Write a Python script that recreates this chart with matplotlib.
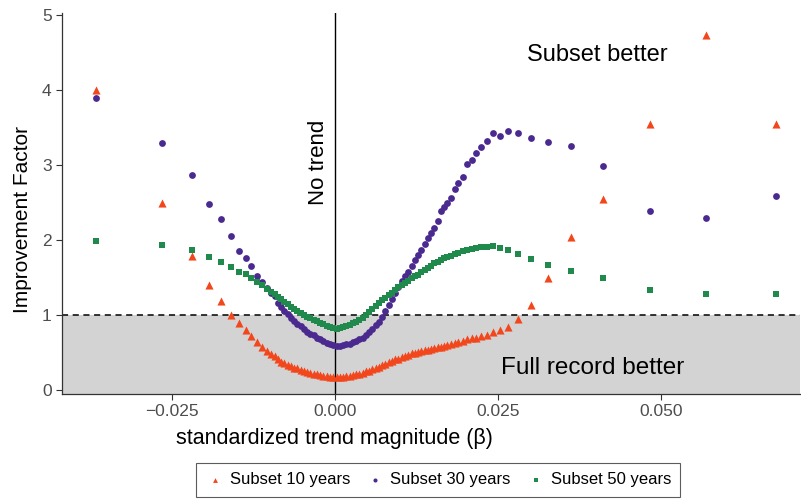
import matplotlib
matplotlib.use('Agg')
import matplotlib.pyplot as plt

plt.rcParams['font.family'] = ['Liberation Sans', 'DejaVu Sans']

# standardized trend magnitude (beta), shared by all three subsets
beta = [-0.0367, -0.0265, -0.0219, -0.0193, -0.0175, -0.0160, -0.0147, -0.0137, -0.0129, -0.0120, -0.0112, -0.0105,
        -0.0098, -0.0093, -0.0088, -0.0083, -0.0078, -0.0073, -0.0068, -0.0063, -0.0058, -0.0053, -0.0048, -0.0043,
        -0.0038, -0.0033, -0.0028, -0.0023, -0.0018, -0.0013, -0.0008, -0.0003, 0.0002, 0.0007, 0.0012, 0.0017,
        0.0022, 0.0027, 0.0032, 0.0037, 0.0042, 0.0047, 0.0052, 0.0057, 0.0062, 0.0067, 0.0072, 0.0077,
        0.0082, 0.0087, 0.0092, 0.0097, 0.0102, 0.0107, 0.0112, 0.0117, 0.0122, 0.0127, 0.0132, 0.0137,
        0.0142, 0.0147, 0.0152, 0.0157, 0.0162, 0.0167, 0.0172,
        0.0178, 0.0184, 0.0189, 0.0196, 0.0202, 0.0209, 0.0216, 0.0224, 0.0233, 0.0242, 0.0253, 0.0265,
        0.0280, 0.0300, 0.0327, 0.0362, 0.0411, 0.0483, 0.0569, 0.0676]

sub10 = [4.00, 2.49, 1.79, 1.40, 1.19, 1.00, 0.89, 0.80, 0.72, 0.64, 0.57, 0.52,
         0.48, 0.45, 0.41, 0.38, 0.36, 0.34, 0.32, 0.30, 0.29, 0.27, 0.25, 0.24,
         0.23, 0.22, 0.21, 0.20, 0.19, 0.19, 0.18, 0.18, 0.18, 0.18, 0.18, 0.19,
         0.19, 0.20, 0.21, 0.22, 0.23, 0.25, 0.26, 0.28, 0.30, 0.31, 0.33, 0.35,
         0.37, 0.39, 0.41, 0.42, 0.44, 0.46, 0.47, 0.49, 0.50, 0.51, 0.52, 0.53,
         0.54, 0.55, 0.56, 0.57, 0.58, 0.59, 0.60,
         0.62, 0.63, 0.64, 0.66, 0.68, 0.69, 0.70, 0.72, 0.74, 0.77, 0.80, 0.84,
         0.95, 1.14, 1.49, 2.04, 2.55, 3.55, 4.73, 3.55]

sub30 = [3.89, 3.30, 2.87, 2.48, 2.28, 2.06, 1.86, 1.76, 1.65, 1.52, 1.44, 1.36,
         1.30, 1.25, 1.16, 1.11, 1.06, 1.01, 0.96, 0.92, 0.88, 0.85, 0.81, 0.78,
         0.75, 0.73, 0.70, 0.68, 0.65, 0.63, 0.61, 0.60, 0.59, 0.59, 0.60, 0.61,
         0.62, 0.64, 0.66, 0.68, 0.70, 0.74, 0.78, 0.82, 0.87, 0.91, 0.97, 1.05,
         1.13, 1.22, 1.30, 1.37, 1.46, 1.52, 1.58, 1.66, 1.73, 1.80, 1.87, 1.95,
         2.03, 2.09, 2.16, 2.25, 2.39, 2.44, 2.49,
         2.56, 2.68, 2.76, 2.84, 3.01, 3.07, 3.16, 3.24, 3.32, 3.43, 3.39, 3.45,
         3.43, 3.36, 3.31, 3.25, 2.99, 2.39, 2.29, 2.59]

sub50 = [1.99, 1.93, 1.87, 1.78, 1.71, 1.64, 1.58, 1.55, 1.50, 1.44, 1.40, 1.35,
         1.31, 1.28, 1.24, 1.21, 1.18, 1.15, 1.11, 1.08, 1.05, 1.03, 1.00, 0.98,
         0.96, 0.94, 0.92, 0.90, 0.88, 0.86, 0.84, 0.83, 0.82, 0.83, 0.84, 0.85,
         0.87, 0.89, 0.91, 0.93, 0.96, 1.00, 1.04, 1.08, 1.12, 1.16, 1.20, 1.23,
         1.27, 1.30, 1.34, 1.37, 1.40, 1.43, 1.46, 1.49, 1.52, 1.54, 1.57, 1.60,
         1.63, 1.66, 1.69, 1.71, 1.73, 1.76, 1.77,
         1.79, 1.81, 1.83, 1.85, 1.87, 1.88, 1.89, 1.91, 1.91, 1.92, 1.90, 1.87,
         1.81, 1.75, 1.67, 1.59, 1.49, 1.34, 1.28, 1.28]

xticks = [-0.025, 0.0, 0.025, 0.05]
xticklabels = ['\u22120.025', '0.000', '0.025', '0.050']
yticks = [0, 1, 2, 3, 4, 5]

fig = plt.figure(figsize=(8.01, 5.01), dpi=100)
ax = fig.add_axes([0.0774, 0.2136, 0.9216, 0.7605])

# grey zone where the full record wins
ax.axhspan(-1, 1, color='#d3d3d3', zorder=0, lw=0)
ax.axhline(1, color='black', ls=(0, (4, 3)), lw=1.1, zorder=1)
ax.axvline(0, color='black', lw=1.0, zorder=1)

ax.scatter(beta, sub10, marker='^', s=34, color='#f2471c', lw=0, zorder=3, label='Subset 10 years')
ax.scatter(beta, sub30, marker='o', s=24, color='#4b2a8f', lw=0, zorder=3, label='Subset 30 years')
ax.scatter(beta, sub50, marker='s', s=20, color='#1f8a4c', lw=0, zorder=3, label='Subset 50 years')

ax.text(-0.0026, 3.04, 'No trend', rotation=90, ha='center', va='center', fontsize=16)
ax.text(0.0402, 4.47, 'Subset better', ha='center', va='center', fontsize=17)
ax.text(0.0394, 0.29, 'Full record better', ha='center', va='center', fontsize=17.5)

ax.set_xlim(-0.0419, 0.0713)
ax.set_ylim(-0.053, 5.027)
ax.set_xticks(xticks)
ax.set_xticklabels(xticklabels)
ax.set_yticks(yticks)
ax.tick_params(colors='#333333', labelcolor='#4d4d4d', labelsize=12.5, length=4, width=0.8)

for side in ['top', 'right']:
    ax.spines[side].set_visible(False)
for side in ['left', 'bottom']:
    ax.spines[side].set_color('#333333')
    ax.spines[side].set_linewidth(0.9)

ax.set_xlabel('standardized trend magnitude (\u03b2)', fontsize=15.5)
ax.xaxis.set_label_coords(0.3686, -0.089)
ax.set_ylabel('Improvement Factor', fontsize=15)
ax.yaxis.set_label_coords(-0.041, 0.457)

leg = fig.legend(loc='center', bbox_to_anchor=(0.547, 0.042), ncol=3, fontsize=12,
                 markerscale=0.6, handletextpad=0.3, columnspacing=0.9, handlelength=1.2,
                 fancybox=False, edgecolor='#333333', borderpad=0.55)
leg.get_frame().set_linewidth(0.8)

fig.savefig('out.png', dpi=100)
